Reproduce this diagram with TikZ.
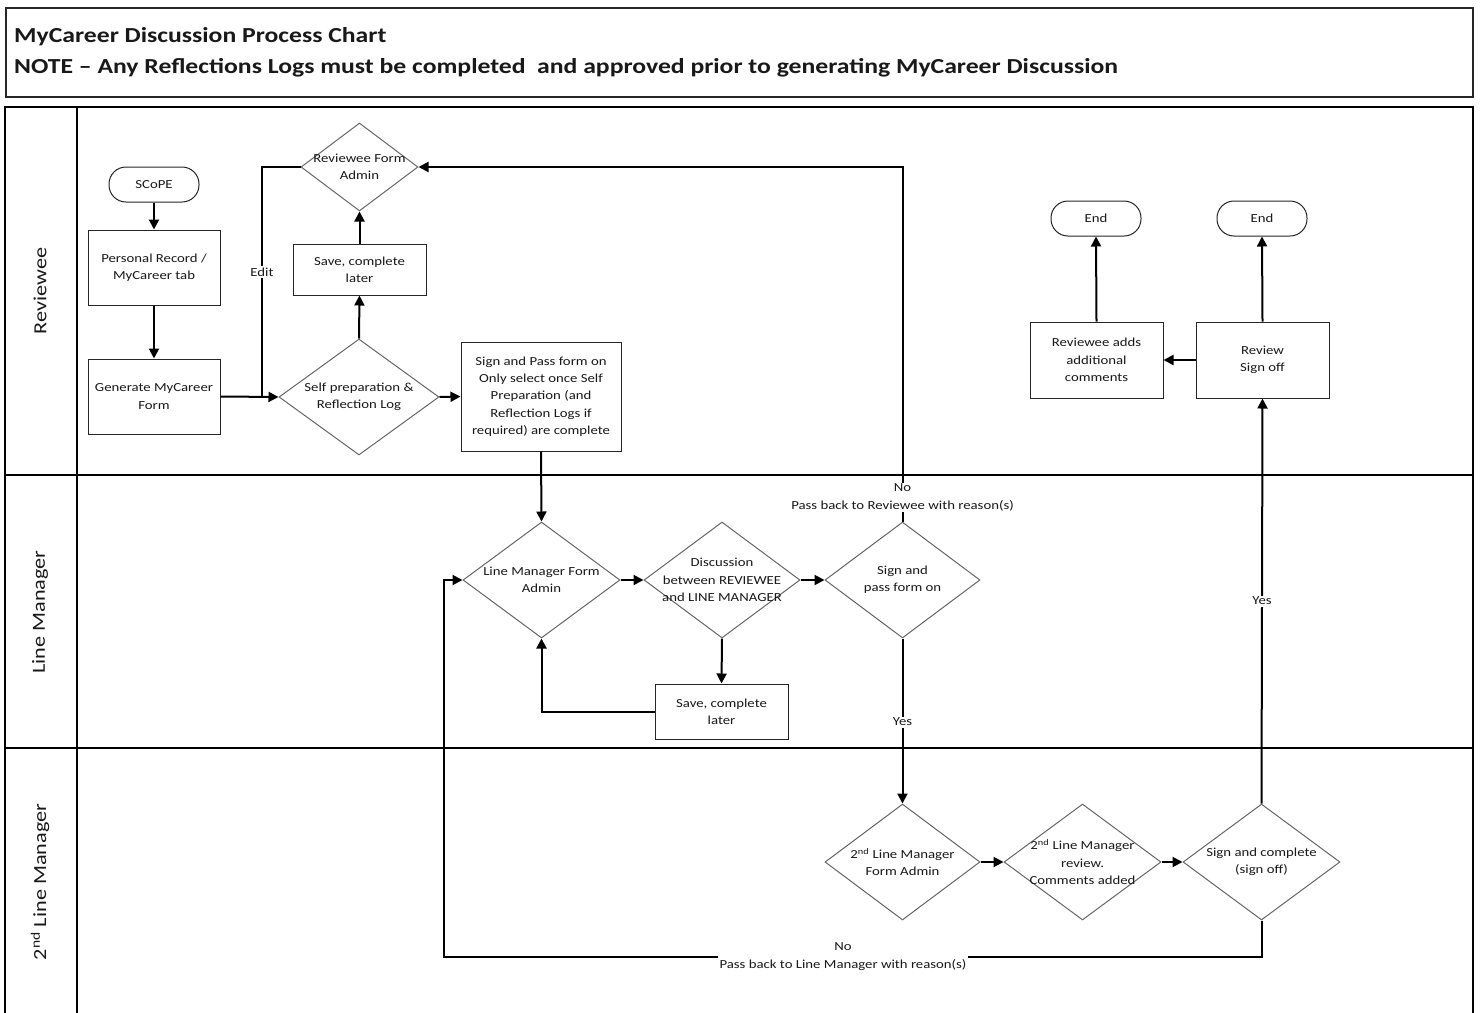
\documentclass[tikz,border=0pt]{standalone}
\usepackage{fontspec}
\setmainfont{Carlito}[FakeStretch=1.2]
\usetikzlibrary{shapes.geometric,arrows.meta}
\begin{document}
\begin{tikzpicture}[x=1pt,y=-1pt,
  every node/.style={font=\fontsize{12.3}{17.3}\selectfont, align=center, inner sep=0pt, text=black!90},
  procbox/.style={draw=black!85, line width=1pt, fill=white},
  dia/.style={diamond, draw=black!60, line width=1pt, fill=white},
  term/.style={rectangle, rounded corners=17pt, draw=black!85, line width=1pt, fill=white, minimum width=90pt, minimum height=35pt},
  conn/.style={line width=2pt, -{Triangle[length=10pt,width=10pt]}},
  plainline/.style={line width=2pt},
  lbl/.style={fill=white, inner sep=1.5pt},
  lanelbl/.style={rotate=90, font=\fontsize{18.5}{22}\selectfont},
  border/.style={line width=2pt, draw=black}
]
\useasboundingbox (0,0) rectangle (1480,1012);
\fill[white] (0,0) rectangle (1480,1012);

% title box
\draw[line width=1.1pt, draw=black!85] (6,8) rectangle (1473,97);
\node[anchor=west, font=\fontsize{21.4}{25}\bfseries] (title1) at (14,37) {MyCareer Discussion Process Chart};
\node[anchor=west, font=\fontsize{21.4}{25}\bfseries] (title2) at (14,68) {NOTE -- Any Reflections Logs must be completed \ and approved prior to generating MyCareer Discussion};

% swimlanes
\draw[border] (5,1020) -- (5,107) -- (1473,107) -- (1473,1020);
\draw[border] (77,107) -- (77,1020);
\draw[border] (5,475) -- (1473,475);
\draw[border] (5,748) -- (1473,748);
\node[lanelbl] (lane1) at (40,291) {Reviewee};
\node[lanelbl] (lane2) at (40,612) {Line Manager};
\node[lanelbl] (lane3) at (40,882) {2\textsuperscript{nd} Line Manager};

% Reviewee lane
\node[term] (scope) at (154,184.5) {SCoPE};
\node[procbox, minimum width=132pt, minimum height=75pt] (prec) at (154,267.5) {Personal Record /\\MyCareer tab};
\node[procbox, minimum width=132pt, minimum height=75pt] (gen) at (154,396.5) {Generate MyCareer\\Form};
\node[dia, minimum width=160pt, minimum height=116pt] (self) at (359,397) {};
\node (self-t) at (self.center) {Self preparation \&\\Reflection Log};
\node[procbox, minimum width=133pt, minimum height=51pt] (save1) at (359.5,269.5) {Save, complete\\later};
\node[dia, minimum width=117pt, minimum height=88pt] (rfa) at (359.5,167) {};
\node (rfa-t) at (rfa.center) {Reviewee Form\\Admin};
\node[procbox, minimum width=160pt, minimum height=109pt] (sp) at (541,396.5) {Sign and Pass form on\\Only select once Self\\Preparation (and\\Reflection Logs if\\required) are complete};
\node[procbox, minimum width=133pt, minimum height=76pt] (rac) at (1096.5,360) {Reviewee adds\\additional\\comments};
\node[procbox, minimum width=133pt, minimum height=76pt] (rso) at (1262.5,360) {Review\\Sign off};
\node[term] (end1) at (1096,218.5) {End};
\node[term] (end2) at (1262,218.5) {End};

% Line Manager lane
\node[dia, minimum width=157pt, minimum height=116pt] (lmfa) at (541.5,580) {};
\node (lmfa-t) at (lmfa.center) {Line Manager Form\\Admin};
\node[dia, minimum width=156pt, minimum height=116pt] (disc) at (722,580) {};
\node (disc-t) at (disc.center) {Discussion\\between REVIEWEE\\and LINE MANAGER};
\node[dia, minimum width=155pt, minimum height=116pt] (sap) at (902.5,580) {};
\node (sap-t) at (sap.center) {Sign and\\pass form on};
\node[procbox, minimum width=133pt, minimum height=55pt] (save2) at (721.5,711.5) {Save, complete\\later};

% 2nd Line Manager lane
\node[dia, minimum width=155pt, minimum height=116pt] (lm2) at (902.5,862) {};
\node (lm2-t) at (lm2.center) {2\textsuperscript{nd} Line Manager\\Form Admin};
\node[dia, minimum width=157pt, minimum height=116pt] (rev2) at (1082.5,862) {};
\node (rev2-t) at (rev2.center) {2\textsuperscript{nd} Line Manager\\review.\\Comments added};
\node[dia, minimum width=157pt, minimum height=116pt] (sac) at (1261.5,862) {};
\node (sac-t) at (sac.center) {Sign and complete\\(sign off)};

% connectors
\draw[conn] (scope) -- (prec);
\draw[conn] (prec) -- (gen);
\draw[conn] (gen.east) -- (self.west);
\draw[conn] (self.north) -- (save1.south);
\draw[conn] (save1.north) -- (rfa.south);
\coordinate (editj) at (262,396.5);
\draw[plainline] (rfa.west) -| (editj);
\draw[conn] (self.east) -- (sp.west);
\draw[conn] (sp.south) -- (lmfa.north);
\draw[conn] (lmfa.east) -- (disc.west);
\draw[conn] (disc.east) -- (sap.west);
\draw[conn] (disc.south) -- (save2.north);
\draw[conn] (save2.west) -| (lmfa.south);
\draw[conn] (sap.north) |- (rfa.east);
\draw[conn] (sap.south) -- (lm2.north);
\draw[conn] (lm2.east) -- (rev2.west);
\draw[conn] (rev2.east) -- (sac.west);
\draw[conn] (sac.north) -- (rso.south);
\coordinate (nb1) at (1261.5,957);
\coordinate (nb2) at (444,957);
\draw[conn] (sac.south) -- (nb1) -- (nb2) |- (lmfa.west);
\draw[conn] (rso.west) -- (rac.east);
\draw[conn] (rac.north) -- (end1.south);
\draw[conn] (rso.north) -- (end2.south);

% labels on connectors
\node[lbl] (edit) at (262,272) {Edit};
\node[lbl] (nopass1) at (902.5,497.5) {No\\Pass back to Reviewee with reason(s)};
\node[lbl] (yes1) at (902.5,722) {Yes};
\node[lbl] (yes2) at (1262,601) {Yes};
\node[lbl] (nopass2) at (843,956.5) {No\\Pass back to Line Manager with reason(s)};
\end{tikzpicture}
\end{document}
